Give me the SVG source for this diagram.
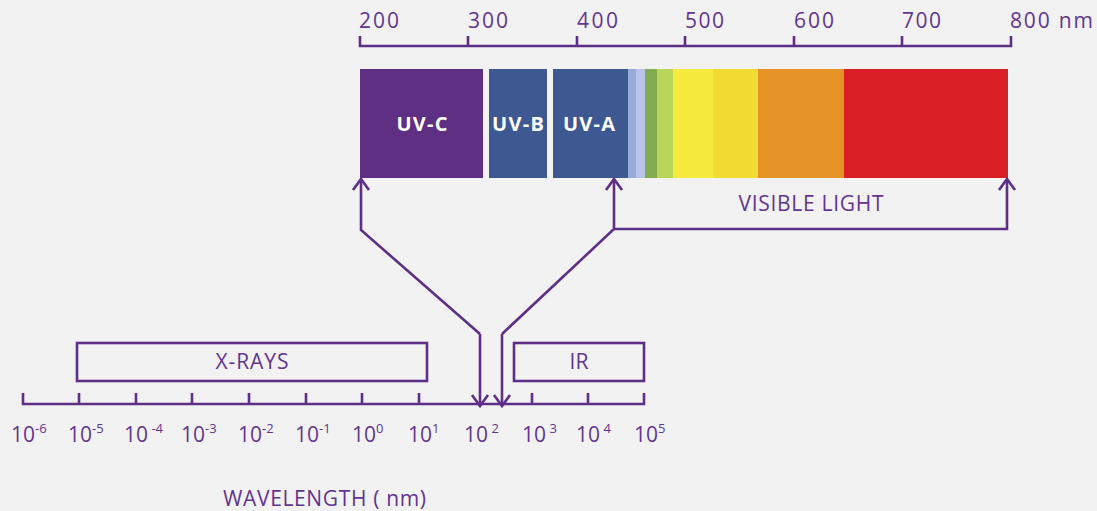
<svg xmlns="http://www.w3.org/2000/svg" width="1097" height="511" viewBox="0 0 1097 511">
<defs>
<style>
.ln{fill:none;stroke:#5e2f87;stroke-width:2.6;stroke-linecap:butt;stroke-linejoin:miter}
.t{font-family:"Open Sans","Noto Sans",sans-serif;fill:#623590;font-size:21px}
.w{font-family:"Open Sans","Noto Sans",sans-serif;fill:#ffffff;font-size:20px;font-weight:bold;text-anchor:middle}
.s{font-size:13px}
.m{text-anchor:middle}
</style>
<marker id="ah" viewBox="0 0 20 20" refX="12" refY="10" markerWidth="20" markerHeight="20" markerUnits="userSpaceOnUse" orient="auto-start-reverse">
<path d="M1,2 L12,10 L1,18" fill="none" stroke="#5e2f87" stroke-width="2.6"/>
</marker>
</defs>
<rect width="1097" height="511" fill="#f2f2f2"/>

<g id="top-scale">
<path class="ln" d="M360,36 V46 H1011 V36 M468,36 V46 M577,36 V46 M685,36 V46 M794,36 V46 M902,36 V46"/>
<text class="t" x="359" y="28" textLength="40">200</text>
<text class="t" x="468" y="28" textLength="40">300</text>
<text class="t" x="577" y="28" textLength="41">400</text>
<text class="t" x="685" y="28" textLength="39">500</text>
<text class="t" x="794" y="28" textLength="40">600</text>
<text class="t" x="902" y="28" textLength="39">700</text>
<text class="t" x="1010" y="28" textLength="83">800 nm</text>
</g>

<g id="spectrum">
<rect x="360" y="69" width="123" height="109" fill="#5e2f82"/>
<rect x="489" y="69" width="58" height="109" fill="#3e5892"/>
<rect x="553" y="69" width="75" height="109" fill="#3e5892"/>
<rect x="628" y="69" width="8" height="109" fill="#98aad8"/>
<rect x="636" y="69" width="9" height="109" fill="#b8c5e8"/>
<rect x="645" y="69" width="12" height="109" fill="#82aa4e"/>
<rect x="657" y="69" width="16" height="109" fill="#bad65a"/>
<rect x="673" y="69" width="40" height="109" fill="#f7ea3e"/>
<rect x="713" y="69" width="45" height="109" fill="#f2dc33"/>
<rect x="758" y="69" width="86" height="109" fill="#e59226"/>
<rect x="844" y="69" width="164" height="109" fill="#da1f26"/>
</g>
<g id="uvc"><text class="w" x="422" y="131" textLength="51">UV-C</text></g>
<g id="uvb"><text class="w" x="518" y="131" textLength="52">UV-B</text></g>
<g id="uva"><text class="w" x="589" y="131" textLength="52">UV-A</text></g>

<g id="visible-light">
<text class="t m" x="811" y="211" font-size="20" textLength="145">VISIBLE LIGHT</text>
</g>

<g id="xrays">
<rect class="ln" x="77" y="343" width="350" height="38"/>
<text class="t m" x="252" y="369" font-size="20" textLength="73">X-RAYS</text>
</g>
<g id="ir">
<rect class="ln" x="514" y="343" width="130" height="38"/>
<text class="t m" x="579" y="369" font-size="20">IR</text>
</g>

<g id="connectors">
<path class="ln" d="M480,334 L361,230 V179" marker-end="url(#ah)"/>
<path class="ln" d="M480,334 V406" marker-end="url(#ah)"/>
<path class="ln" d="M502,334 V406" marker-end="url(#ah)"/>
<path class="ln" d="M502,334 L614,229 V179" marker-end="url(#ah)"/>
<path class="ln" d="M614,229 H1007 V179" marker-end="url(#ah)"/>
</g>

<g id="bottom-scale">
<path class="ln" d="M23,393 V404 H644 V393 M79,393 V404 M136,393 V404 M192,393 V404 M249,393 V404 M306,393 V404 M362,393 V404 M419,393 V404 M532,393 V404 M588,393 V404"/>
<text class="t" y="442"><tspan x="11">10</tspan><tspan class="s" dy="-9">-6</tspan></text>
<text class="t" y="442"><tspan x="68">10</tspan><tspan class="s" dy="-9">-5</tspan></text>
<text class="t" y="442"><tspan x="124">10</tspan><tspan class="s" dy="-9"> -4</tspan></text>
<text class="t" y="442"><tspan x="181">10</tspan><tspan class="s" dy="-9">-3</tspan></text>
<text class="t" y="442"><tspan x="238">10</tspan><tspan class="s" dy="-9">-2</tspan></text>
<text class="t" y="442"><tspan x="295">10</tspan><tspan class="s" dy="-9">-1</tspan></text>
<text class="t" y="442"><tspan x="352">10</tspan><tspan class="s" dy="-9">0</tspan></text>
<text class="t" y="442"><tspan x="408">10</tspan><tspan class="s" dy="-9">1</tspan></text>
<text class="t" y="442"><tspan x="464">10</tspan><tspan class="s" dy="-9"> 2</tspan></text>
<text class="t" y="442"><tspan x="522">10</tspan><tspan class="s" dy="-9"> 3</tspan></text>
<text class="t" y="442"><tspan x="576">10</tspan><tspan class="s" dy="-9"> 4</tspan></text>
<text class="t" y="442"><tspan x="634">10</tspan><tspan class="s" dy="-9">5</tspan></text>
<text class="t" x="223" y="506" font-size="19" textLength="203">WAVELENGTH ( nm)</text>
</g>
</svg>
